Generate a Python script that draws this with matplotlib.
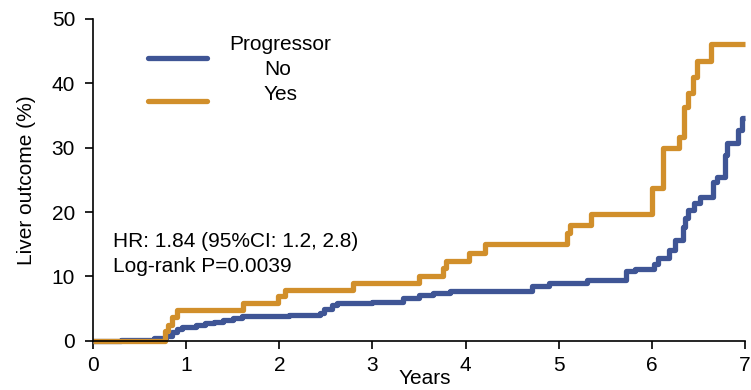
import matplotlib
matplotlib.use("Agg")
import matplotlib.pyplot as plt

plt.rcParams['font.family'] = ['Liberation Sans', 'DejaVu Sans']

# ---- data (years, cumulative %) ----
years_no = [0, 0.3, 0.5, 0.65, 0.78, 0.85, 0.9, 0.95, 1.1, 1.2,
            1.3, 1.4, 1.5, 1.6, 2.1, 2.44, 2.48, 2.57, 2.62, 3.0,
            3.33, 3.5, 3.65, 3.83, 4.71, 4.89, 5.30, 5.72, 5.82, 6.02,
            6.07, 6.18, 6.25, 6.33, 6.36, 6.39, 6.45, 6.52, 6.66, 6.70,
            6.79, 6.81, 6.93, 6.97, 7.0]
pct_no = [0, 0.1, 0.2, 0.4, 0.8, 1.3, 1.8, 2.2, 2.4, 2.7,
          3.0, 3.3, 3.6, 3.9, 4.0, 4.4, 4.9, 5.5, 5.8, 6.1,
          6.6, 7.1, 7.4, 7.7, 8.5, 9.0, 9.4, 10.9, 11.1, 12.0,
          12.9, 14.1, 15.6, 17.7, 19.1, 20.3, 21.4, 22.4, 24.6, 25.4,
          28.8, 30.7, 32.7, 34.6, 34.6]

years_yes = [0, 0.77, 0.80, 0.85, 0.90, 1.61, 1.98, 2.06, 2.79, 3.50,
             3.76, 3.79, 4.04, 4.21, 5.09, 5.12, 5.35, 6.00, 6.12, 6.29,
             6.34, 6.39, 6.44, 6.48, 6.63, 7.0]
pct_yes = [0, 1.5, 2.5, 3.7, 4.8, 5.9, 6.9, 7.9, 9.0, 10.1,
           11.3, 12.4, 13.6, 15.0, 16.7, 18.0, 19.7, 23.7, 29.9, 31.6,
           36.3, 38.4, 40.9, 43.4, 46.0, 46.0]

x_ticks = [0, 1, 2, 3, 4, 5, 6, 7]
y_ticks = [0, 10, 20, 30, 40, 50]

blue = '#3f5595'
gold = '#d18f2b'
fs = 15

fig = plt.figure(figsize=(7.51, 3.90), dpi=100)
ax = fig.add_axes([0.124, 0.126, 0.868, 0.826])

ax.plot(years_no, pct_no, drawstyle='steps-post', color=blue, lw=3.8,
        solid_capstyle='butt', clip_on=False)
ax.plot(years_yes, pct_yes, drawstyle='steps-post', color=gold, lw=3.8,
        solid_capstyle='butt', clip_on=False)

ax.set_xlim(0, 7)
ax.set_ylim(0, 50)
ax.set_xticks(x_ticks)
ax.set_yticks(y_ticks)
ax.tick_params(labelsize=fs, length=6, width=1.2, direction='out', colors='black')
ax.tick_params(axis='x', pad=5)
ax.tick_params(axis='y', pad=7)
ax.spines['top'].set_visible(False)
ax.spines['right'].set_visible(False)
for s in ['left', 'bottom']:
    ax.spines[s].set_linewidth(1.2)

ax.set_xlabel('Years', fontsize=fs, va='top')
ax.xaxis.set_label_coords(0.508, -0.087)
ax.set_ylabel('Liver outcome (%)', fontsize=fs)
ax.yaxis.set_label_coords(-0.088, 0.5)

# manual legend
ax.plot([0.084, 0.175], [0.879, 0.879], transform=ax.transAxes, color=blue,
        lw=3.8, solid_capstyle='round')
ax.plot([0.084, 0.175], [0.745, 0.745], transform=ax.transAxes, color=gold,
        lw=3.8, solid_capstyle='round')
ax.text(0.287, 0.904, 'Progressor', transform=ax.transAxes, fontsize=fs,
        ha='center', va='baseline')
ax.text(0.283, 0.826, 'No', transform=ax.transAxes, fontsize=fs,
        ha='center', va='baseline')
ax.text(0.288, 0.748, 'Yes', transform=ax.transAxes, fontsize=fs,
        ha='center', va='baseline')

ax.text(0.031, 0.292, 'HR: 1.84 (95%CI: 1.2, 2.8)', transform=ax.transAxes,
        fontsize=fs, ha='left', va='baseline')
ax.text(0.031, 0.214, 'Log-rank P=0.0039', transform=ax.transAxes,
        fontsize=fs, ha='left', va='baseline')

fig.savefig('out.png', dpi=100)
